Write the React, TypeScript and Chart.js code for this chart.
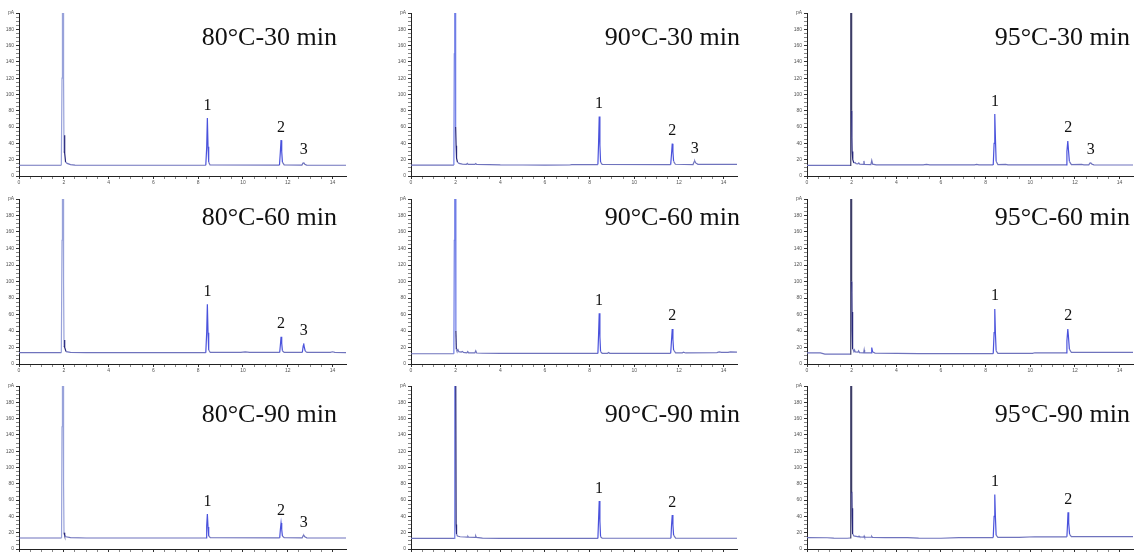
import React, { useEffect, useRef } from "react";
import { Chart, registerables } from "chart.js";

Chart.register(...registerables);

// ---------- data ----------
const TITLES = [
  "80°C-30 min", "90°C-30 min", "95°C-30 min",
  "80°C-60 min", "90°C-60 min", "95°C-60 min",
  "80°C-90 min", "90°C-90 min", "95°C-90 min",
];

const X_MIN = 0;
const X_MAX = 14.6;
const Y_MIN = 0;
const Y_MAX = 200;
const X_LABEL_STEP = 2;
const X_MINOR_STEP = 0.5;
const Y_LABEL_STEP = 20;
const Y_MINOR_STEP = 5;
const Y_UNIT = "pA";

// retention time (min), signal
const trace_80_30 = [
  [0, 13.2], [1.89, 13.2], [1.92, 120], [1.94, 260], [1.97, 260], [1.99, 120], [2.01, 30], [2.03, 50], [2.05, 28],
  [2.08, 17], [2.15, 15.5], [2.3, 14], [2.5, 13.3],
  [8.34, 13.2], [8.38, 35], [8.41, 71], [8.44, 36], [8.47, 17], [8.53, 13.6],
  [11.63, 13.3], [11.67, 30], [11.7, 44], [11.73, 30], [11.76, 17], [11.84, 13.6],
  [12.63, 13.3], [12.68, 15.8], [12.72, 16], [12.76, 14.5], [12.84, 13.4],
  [14.6, 13.2],
];
const trace_90_30 = [
  [0, 13.4], [1.92, 13.4], [1.94, 150], [1.96, 260], [1.99, 260], [2.0, 60], [2.02, 37], [2.04, 22], [2.08, 17],
  [2.15, 15.5], [2.3, 14.5], [2.48, 14.3], [2.52, 15.5], [2.56, 14.3], [2.86, 14.2], [2.9, 15.3], [2.94, 14.2],
  [3.5, 14], [4.0, 13.6], [5.0, 13.5], [6.0, 13.4], [7.1, 13.5], [7.2, 14],
  [8.37, 14], [8.4, 40], [8.43, 73], [8.46, 38], [8.49, 17], [8.56, 14.3],
  [11.63, 14], [11.67, 28], [11.7, 39.7], [11.73, 30], [11.76, 18], [11.84, 14.4],
  [12.63, 14], [12.68, 17.5], [12.71, 18.4], [12.75, 16], [12.85, 14.3],
  [14.6, 14.2],
];
const trace_95_30 = [
  [0, 13], [1.93, 13], [1.95, 200], [1.97, 260], [1.985, 260], [2.0, 80], [2.01, 47], [2.02, 30], [2.05, 20],
  [2.1, 16], [2.15, 16.5], [2.2, 15], [2.28, 14.8], [2.32, 16], [2.36, 14.5], [2.53, 14.2], [2.55, 18.5], [2.57, 14.2],
  [2.86, 14], [2.9, 19], [2.94, 14.5], [3.1, 13.6], [5.2, 13.6], [5.35, 14.3], [5.5, 13.6], [7.5, 13.6], [7.6, 14.2], [7.7, 13.6],
  [8.34, 13.6], [8.38, 40], [8.41, 76], [8.44, 45], [8.47, 18], [8.55, 14],
  [8.9, 14.3], [9.0, 13.6],
  [11.6, 13.6], [11.64, 30], [11.68, 43], [11.71, 32], [11.75, 18], [11.84, 14],
  [12.3, 14.2], [12.4, 13.7],
  [12.62, 13.7], [12.67, 15.8], [12.71, 16], [12.76, 14.5], [12.85, 13.7],
  [14.6, 13.5],
];
const trace_80_60 = [
  [0, 13.7], [1.89, 13.7], [1.92, 150], [1.94, 260], [1.97, 260], [1.99, 100], [2.01, 22], [2.03, 29], [2.05, 20],
  [2.1, 15], [2.3, 14], [3, 13.7],
  [8.34, 13.7], [8.38, 38], [8.41, 72.4], [8.44, 38], [8.47, 17], [8.54, 14],
  [9.9, 14], [10.1, 14.6], [10.3, 14],
  [11.64, 14], [11.68, 26], [11.7, 33], [11.73, 25], [11.76, 16], [11.84, 14],
  [12.65, 14], [12.69, 22], [12.71, 25], [12.74, 20], [12.78, 15.5], [12.86, 14],
  [13.9, 14], [14.0, 14.8], [14.1, 14],
  [14.6, 13.9],
];
const trace_90_60 = [
  [0, 12.4], [1.92, 12.4], [1.94, 150], [1.96, 260], [1.99, 260], [2.01, 40], [2.03, 18], [2.06, 16], [2.1, 17.5],
  [2.14, 15], [2.25, 14.5], [2.3, 15.3], [2.35, 14], [2.5, 13.6], [2.54, 15], [2.58, 13.5], [2.86, 13.4], [2.9, 16],
  [2.94, 13.3], [3.2, 13], [4, 12.8],
  [8.37, 12.8], [8.4, 35], [8.43, 61.5], [8.46, 33], [8.49, 15], [8.56, 13],
  [8.8, 13], [8.85, 14], [8.9, 13],
  [11.63, 13], [11.67, 30], [11.7, 42.5], [11.73, 30], [11.76, 17], [11.85, 13.4],
  [12.15, 13.4], [12.2, 14.3], [12.3, 13.4],
  [13.7, 13.8], [13.8, 14.6], [13.9, 14], [14.2, 14.2], [14.3, 14.8], [14.6, 14.5],
];
const trace_95_60 = [
  [0, 13.5], [0.6, 13.5], [0.8, 12], [1.93, 12], [1.95, 200], [1.97, 260], [1.985, 260], [2.0, 100], [2.01, 87],
  [2.02, 40], [2.03, 63], [2.04, 30], [2.06, 18], [2.1, 15], [2.13, 17], [2.16, 14.5], [2.28, 14.3], [2.31, 16],
  [2.35, 13.8], [2.54, 13.5], [2.56, 17], [2.58, 13.5], [2.87, 13.5], [2.9, 20], [2.94, 14.5], [3.05, 13.2], [5, 12.6],
  [8.34, 12.6], [8.38, 38], [8.41, 66.7], [8.44, 36], [8.47, 16], [8.55, 12.9],
  [10.1, 12.9], [10.2, 13.6], [11.6, 13.6],
  [11.64, 28], [11.68, 42.5], [11.71, 33], [11.75, 18], [11.84, 14],
  [14.6, 14],
];
const trace_80_90 = [
  [0, 13.5], [1.9, 13.5], [1.92, 150], [1.94, 260], [1.97, 260], [1.99, 80], [2.01, 20], [2.04, 16.5], [2.1, 15],
  [2.3, 14], [3, 13.5],
  [8.35, 13.5], [8.38, 28], [8.41, 42.8], [8.44, 27], [8.47, 16], [8.54, 13.8],
  [11.64, 13.7], [11.67, 24], [11.7, 31.8], [11.73, 24], [11.76, 16], [11.84, 13.8],
  [12.64, 13.6], [12.69, 16.3], [12.72, 16.7], [12.76, 15], [12.85, 13.7],
  [14.6, 13.5],
];
const trace_90_90 = [
  [0, 13], [1.93, 13], [1.95, 200], [1.97, 260], [2.0, 260], [2.02, 30], [2.04, 18], [2.08, 16], [2.2, 15],
  [2.4, 14.7], [2.52, 14.6], [2.55, 15.5], [2.58, 14.4], [2.87, 14.3], [2.9, 16], [2.93, 14.2], [3.2, 13.3], [4, 13],
  [8.37, 13], [8.4, 36], [8.43, 58.8], [8.46, 34], [8.49, 15], [8.56, 13.2],
  [11.64, 13.2], [11.67, 30], [11.7, 41.6], [11.73, 30], [11.76, 17], [11.85, 13.4],
  [14.6, 13.2],
];
const trace_95_90 = [
  [0, 14], [0.9, 13.8], [1.2, 13.3], [1.8, 13.2], [1.93, 13.5], [1.95, 200], [1.97, 260], [1.985, 260], [2.0, 70],
  [2.01, 68], [2.02, 40], [2.03, 50], [2.04, 31], [2.06, 18], [2.1, 16], [2.2, 15.5], [2.3, 15], [2.33, 15.8],
  [2.36, 14.8], [2.54, 14.5], [2.56, 15.8], [2.58, 14.5], [2.87, 14.4], [2.9, 15.5], [2.93, 14.3], [3.5, 14],
  [4.5, 14], [5, 13.3], [6, 13.2], [6.8, 14],
  [8.34, 14], [8.38, 40], [8.41, 67], [8.44, 38], [8.47, 17], [8.55, 14.2],
  [9.5, 14.2], [10.2, 15],
  [11.64, 15], [11.67, 32], [11.69, 45], [11.72, 32], [11.76, 18], [11.84, 15.2],
  [14.6, 15.2],
];

const TRACES = [
  trace_80_30, trace_90_30, trace_95_30,
  trace_80_60, trace_90_60, trace_95_60,
  trace_80_90, trace_90_90, trace_95_90,
];

// peak annotations: label and approximate retention time
const PEAK_LABELS_3 = ["1", "2", "3"];
const PEAK_TIMES_3 = [8.42, 11.7, 12.71];
const PEAK_LABELS_2 = ["1", "2"];
const PEAK_TIMES_2 = [8.42, 11.7];
const PANEL_PEAK_COUNT = [3, 3, 3, 3, 2, 2, 3, 2, 2];

// ---------- layout / style ----------
const COL_AREA = [[19, 346], [411, 737], [807, 1133]];
const ROW_AREA = [[13, 176], [199, 364], [386, 549]];
const TITLE_RIGHT = [337, 740, 1130];
const TITLE_BASE = [45, 224.5, 422];
const PAD_L = 22, PAD_T = 8, PAD_R = 12, PAD_B = 14;

const BASE_COLOR = "#6f73bd";
const PEAK_COLOR = "#4a52dc";
const SPIKE_COLOR = "#26267a";
const SOLVENT_COLORS = ["#98a2da", "#6f7de6", "#3c3c66"];

function Panel({ index }: { index: number }) {
  const ref = useRef<HTMLCanvasElement | null>(null);
  const col = index % 3;
  const row = Math.floor(index / 3);
  const [aL, aR] = COL_AREA[col];
  const [aT, aB] = ROW_AREA[row];
  const left = aL - PAD_L;
  const top = aT - PAD_T;
  const width = aR - aL + PAD_L + PAD_R;
  const height = aB - aT + PAD_T + PAD_B;

  useEffect(() => {
    if (!ref.current) return;
    const trace = TRACES[index];
    const n = PANEL_PEAK_COUNT[index];
    const labels = n === 3 ? PEAK_LABELS_3 : PEAK_LABELS_2;
    const times = n === 3 ? PEAK_TIMES_3 : PEAK_TIMES_2;
    const solvent = SOLVENT_COLORS[col];

    const annot = {
      id: "annot" + index,
      afterDatasetsDraw(chart: any) {
        const { ctx } = chart;
        const xs = chart.scales.x;
        const ys = chart.scales.y;
        ctx.save();
        ctx.fillStyle = "#111";
        ctx.font = '26px "Liberation Serif", "Times New Roman", serif';
        ctx.textAlign = "right";
        ctx.textBaseline = "alphabetic";
        ctx.fillText(TITLES[index], TITLE_RIGHT[col] - left, TITLE_BASE[row] - top);
        ctx.font = '16px "Liberation Serif", "Times New Roman", serif';
        ctx.textAlign = "center";
        labels.forEach((lab, k) => {
          const t = times[k];
          let h = 0;
          trace.forEach(([x, y]) => {
            if (Math.abs(x - t) < 0.12 && y > h) h = y;
          });
          const px = xs.getPixelForValue(t);
          const py = ys.getPixelForValue(h);
          ctx.fillText(lab, px, py - 8.5);
        });
        ctx.restore();
      },
    };

    const chart = new Chart(ref.current, {
      type: "line",
      data: {
        datasets: [
          {
            data: trace.map(([x, y]) => ({ x, y })),
            borderColor: BASE_COLOR,
            borderWidth: 1.2,
            pointRadius: 0,
            tension: 0,
            fill: false,
            segment: {
              borderColor: (c: any) => {
                const x0 = c.p0.parsed.x;
                const m = Math.max(c.p0.parsed.y, c.p1.parsed.y);
                if (x0 < 2.0 && m > 60) return solvent;
                if (x0 >= 1.99 && x0 < 2.1 && m > 19) return SPIKE_COLOR;
                if (m > 19) return PEAK_COLOR;
                return BASE_COLOR;
              },
            },
          },
        ],
      },
      options: {
        responsive: false,
        animation: false,
        devicePixelRatio: 1,
        layout: { padding: { top: PAD_T, right: PAD_R, left: 0, bottom: 0 } },
        plugins: { legend: { display: false }, tooltip: { enabled: false }, title: { display: false } },
        scales: {
          x: {
            type: "linear",
            min: X_MIN,
            max: X_MAX,
            afterFit: (s: any) => { s.height = PAD_B; },
            afterBuildTicks: (s: any) => {
              s.ticks = s.ticks.filter((t: any) => Math.abs(t.value / X_MINOR_STEP - Math.round(t.value / X_MINOR_STEP)) < 1e-6);
            },
            ticks: {
              stepSize: X_MINOR_STEP,
              autoSkip: false,
              maxRotation: 0,
              padding: 1,
              font: { size: 5, family: "Liberation Sans" },
              color: "#555",
              callback: (v: any) => (Math.abs(v / X_LABEL_STEP - Math.round(v / X_LABEL_STEP)) < 1e-6 ? String(Math.round(v)) : ""),
            },
            grid: {
              display: true,
              drawOnChartArea: false,
              drawTicks: true,
              tickLength: 3,
              tickColor: (c: any) => (c.tick && c.tick.label ? "#333" : "#888"),
            },
            border: { display: true, color: "#222", width: 1 },
          },
          y: {
            type: "linear",
            min: Y_MIN,
            max: Y_MAX,
            afterFit: (s: any) => { s.width = PAD_L; },
            ticks: {
              stepSize: Y_MINOR_STEP,
              autoSkip: false,
              padding: 2,
              font: { size: 5, family: "Liberation Sans" },
              color: "#555",
              callback: (v: any) => {
                if (v === Y_MAX) return Y_UNIT;
                return v % Y_LABEL_STEP === 0 ? String(v) : "";
              },
            },
            grid: {
              display: true,
              drawOnChartArea: false,
              drawTicks: true,
              tickLength: 3,
              tickColor: (c: any) => (c.tick && c.tick.label ? "#333" : "#888"),
            },
            border: { display: true, color: "#222", width: 1 },
          },
        },
      },
      plugins: [annot],
    } as any);
    return () => chart.destroy();
  }, [index]);

  return (
    <canvas
      ref={ref}
      width={width}
      height={height}
      style={{ position: "absolute", left, top, width, height }}
    />
  );
}

export default function App() {
  return (
    <div
      style={{
        position: "fixed",
        left: 0,
        top: 0,
        width: 1140,
        height: 552,
        background: "#fff",
        overflow: "hidden",
      }}
    >
      {TITLES.map((_, i) => (
        <Panel key={i} index={i} />
      ))}
    </div>
  );
}
